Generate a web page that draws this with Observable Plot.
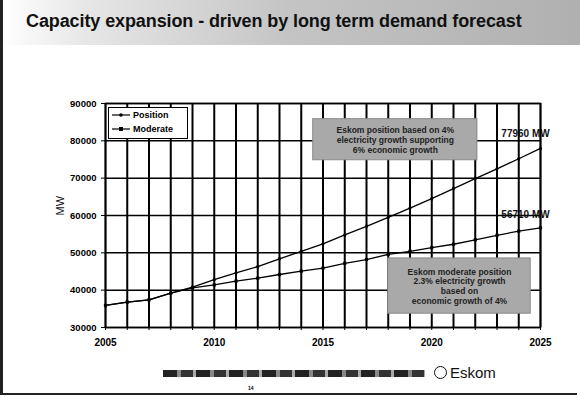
<!DOCTYPE html>
<html>
<head>
<meta charset="utf-8">
<script src="https://cdn.jsdelivr.net/npm/d3@7"></script>
<script src="https://cdn.jsdelivr.net/npm/@observablehq/plot@0.6"></script>
<style>
  html, body { margin: 0; padding: 0; background: #fff; }
  body { width: 580px; height: 398px; position: relative; overflow: hidden; font-family: "Liberation Sans", Arial, sans-serif; }
  #frame { position: absolute; left: 0; top: 0; width: 577px; height: 395px; border-left: 3px solid #222; border-bottom: 2px solid #222; box-sizing: border-box; pointer-events: none; }
  #title { height: 45px; position: relative; background: linear-gradient(90deg, #fff 0%, #e6e6e6 15%, #c4c4c4 50%, #b0b0b0 100%); }
  #title span { position: absolute; left: 26px; top: 11px; font-size: 18px; font-weight: bold; color: #111; letter-spacing: -0.1px; }
  #legend { position: absolute; left: 108px; top: 107px; width: 80px; height: 32px; background: #fff; border: 1.5px solid #000; box-sizing: border-box; font-size: 9px; font-weight: bold; }
  #legend div { height: 14px; display: flex; align-items: center; padding-left: 3px; }
  #legend svg { margin-right: 3px; }
  #band { position: absolute; left: 163px; top: 370px; width: 262px; height: 7px; background: repeating-linear-gradient(90deg, #222 0 14px, #888 14px 18px, #333 18px 30px, #aaa 30px 33px); }
  #logo { position: absolute; left: 434px; top: 364px; font-size: 15px; color: #111; display: flex; align-items: center; }
  #logo i { display: inline-block; width: 11px; height: 11px; border: 1.5px solid #111; border-radius: 50%; margin-right: 3px; font-style: normal; }
  #page { position: absolute; left: 248px; top: 385px; font-size: 5px; font-weight: bold; }
</style>
</head>
<body>
<div id="title"><span>Capacity expansion - driven by long term demand forecast</span></div>
<div id="chart"></div>
<div id="legend">
  <div><svg width="18" height="6"><line x1="0" y1="3" x2="18" y2="3" stroke="#000" stroke-width="1.2"/><circle cx="9" cy="3" r="1.8" fill="#000"/></svg>Position</div>
  <div><svg width="18" height="6"><line x1="0" y1="3" x2="18" y2="3" stroke="#000" stroke-width="1.2"/><rect x="7" y="1" width="4" height="4" fill="#000"/></svg>Moderate</div>
</div>
<div id="band"></div>
<div id="logo"><i></i>Eskom</div>
<div id="page">14</div>
<div id="frame"></div>
<script>
const years = [2005,2006,2007,2008,2009,2010,2011,2012,2013,2014,2015,2016,2017,2018,2019,2020,2021,2022,2023,2024,2025];
const position = [35900,36800,37400,39200,40800,42800,44600,46300,48400,50400,52400,54800,57100,59500,62000,64500,67200,69900,72500,75200,77960];
const moderate = [35900,36800,37400,39200,40600,41400,42400,43200,44200,45100,45900,47200,48200,49600,50400,51400,52300,53500,54700,55800,56710];
const yTicks = [30000,40000,50000,60000,70000,80000,90000];
const xTicks = [2005,2010,2015,2020,2025];
const endLabels = [
  {year: 2023.2, value: 81800, text: "77960 MW"},
  {year: 2023.2, value: 60200, text: "56710 MW"}
];
const notes = [
  {x1: 2014.55, x2: 2022.1, y1: 74800, y2: 85800, lines: ["Eskom position based on 4%", "electricity growth supporting", "6% economic growth"]},
  {x1: 2018.0, x2: 2024.55, y1: 33700, y2: 48500, lines: ["Eskom moderate position", "2.3% electricity growth", "based on", "economic growth of 4%"]}
];

const pos = years.map((y, i) => ({year: y, value: position[i]}));
const mod = years.map((y, i) => ({year: y, value: moderate[i]}));
const noteText = notes.map(n => ({x: (n.x1 + n.x2) / 2, y: (n.y1 + n.y2) / 2, text: n.lines.join("\n")}));

const plot = Plot.plot({
  width: 580,
  height: 310,
  marginLeft: 105,
  marginRight: 40,
  marginTop: 58,
  marginBottom: 28,
  style: {fontFamily: "Liberation Sans, Arial, sans-serif", background: "transparent"},
  x: {type: "linear", domain: [2005, 2025], label: null},
  y: {type: "linear", domain: [30000, 90000], label: null},
  marks: [
    Plot.ruleX(years, {x: d => d, stroke: "#000", strokeWidth: 2}),
    Plot.ruleY(yTicks, {y: d => d, stroke: "#000", strokeWidth: 1.5}),
    Plot.rect(notes, {x1: "x1", x2: "x2", y1: "y1", y2: "y2", fill: "#a9a9a9", stroke: "#8a8a8a"}),
    Plot.text(noteText, {x: "x", y: "y", text: "text", fontSize: 8.5, fontWeight: "bold", fill: "#222", lineHeight: 1.15}),
    Plot.line(pos, {x: "year", y: "value", stroke: "#000", strokeWidth: 1.3}),
    Plot.dot(pos, {x: "year", y: "value", r: 1.8, fill: "#000", symbol: "diamond"}),
    Plot.line(mod, {x: "year", y: "value", stroke: "#000", strokeWidth: 1.3}),
    Plot.dot(mod, {x: "year", y: "value", r: 1.8, fill: "#000", symbol: "square"}),
    Plot.text(endLabels, {x: "year", y: "value", text: "text", textAnchor: "start", fontSize: 10, fontWeight: "bold", fill: "#111"}),
    Plot.axisY({ticks: yTicks, tickFormat: d => String(d), fontSize: 9.5, fontWeight: "bold", tickSize: 4, label: null}),
    Plot.axisX({ticks: years, tickFormat: d => d % 5 === 0 ? String(d) : "", fontSize: 10, fontWeight: "bold", tickSize: 3, tickPadding: 8, label: null}),
    Plot.text(["MW"], {frameAnchor: "left", dx: -45, rotate: -90, text: d => d, fontSize: 11, fill: "#111"}),
    Plot.frame({stroke: "#000", strokeWidth: 1.5})
  ]
});
document.getElementById("chart").appendChild(plot);
</script>
</body>
</html>
